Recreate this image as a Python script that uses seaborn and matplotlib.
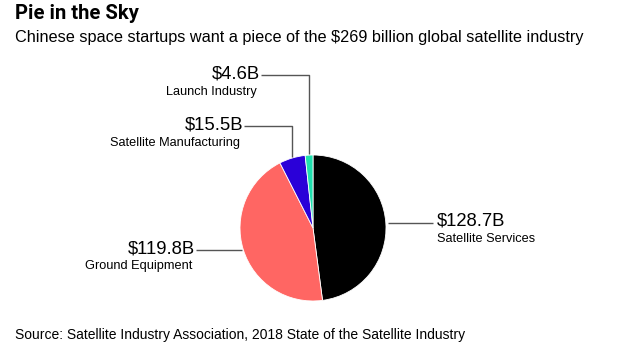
import numpy as np
import matplotlib.pyplot as plt
import seaborn as sns

# data
segments = ["Satellite Services", "Ground Equipment", "Satellite Manufacturing", "Launch Industry"]
values = [128.7, 119.8, 15.5, 4.6]
value_labels = ["$128.7B", "$119.8B", "$15.5B", "$4.6B"]
colors = ["#000000", "#ff6663", "#2a00d8", "#1fe0ae"]

sns.set_theme(style="white")
plt.rcParams['font.family'] = ['Liberation Sans', 'DejaVu Sans']
plt.rcParams['text.color'] = 'black'

W, H = 620, 349
fig = plt.figure(figsize=(W / 100, H / 100), dpi=100)
ax = fig.add_axes([0, 0, 1, 1])

cx, cy, r = 313, H - 228, 73
wedges, _ = ax.pie(values, colors=colors, startangle=90, counterclock=False,
                   center=(cx, cy), radius=r, frame=True,
                   wedgeprops=dict(linewidth=0.6, edgecolor="white"))
ax.set_xlim(0, W)
ax.set_ylim(0, H)
ax.set_aspect("equal")
ax.axis("off")

line_kw = dict(color="#555555", lw=1.0, solid_capstyle="butt")
big = 13.3
small = 9.2

for i, w in enumerate(wedges):
    ang = np.deg2rad((w.theta1 + w.theta2) / 2)
    ex, ey = cx + r * np.cos(ang), cy + r * np.sin(ang)
    name = segments[i]
    if name == "Satellite Services":
        x1 = ex + 47
        ax.plot([ex + 2, x1], [ey, ey], **line_kw)
        ax.text(x1 + 4, ey + 2, value_labels[i], fontsize=big, ha="left", va="center")
        ax.text(x1 + 4, ey - 16, name, fontsize=small, ha="left", va="center")
    elif name == "Ground Equipment":
        x1 = ex - 47
        ax.plot([ex - 1, x1], [ey, ey], **line_kw)
        ax.text(x1 - 1, ey + 1, value_labels[i], fontsize=big, ha="right", va="center")
        ax.text(x1 - 4, ey - 16, name, fontsize=small, ha="right", va="center")
    else:
        top = H - (75 if name == "Launch Industry" else 126)
        x1 = ex - 48
        ax.plot([ex, ex, x1], [ey + 1, top, top], **line_kw)
        ax.text(x1 - 1, top + 1, value_labels[i], fontsize=big, ha="right", va="center")
        ax.text(x1 - 4, top - 17, name, fontsize=small, ha="right", va="center")

fig.text(15 / W, 1 - 19 / H, "Pie in the Sky", fontsize=14.6, fontweight="bold",
         family=['Roboto', 'DejaVu Sans'],
         ha="left", va="baseline")
fig.text(15 / W, 1 - 42 / H, "Chinese space startups want a piece of the $269 billion global satellite industry",
         fontsize=11.7, ha="left", va="baseline")
fig.text(15 / W, 1 - 339 / H, "Source: Satellite Industry Association, 2018 State of the Satellite Industry",
         fontsize=10.0, ha="left", va="baseline")

fig.savefig("out.png", dpi=100)
